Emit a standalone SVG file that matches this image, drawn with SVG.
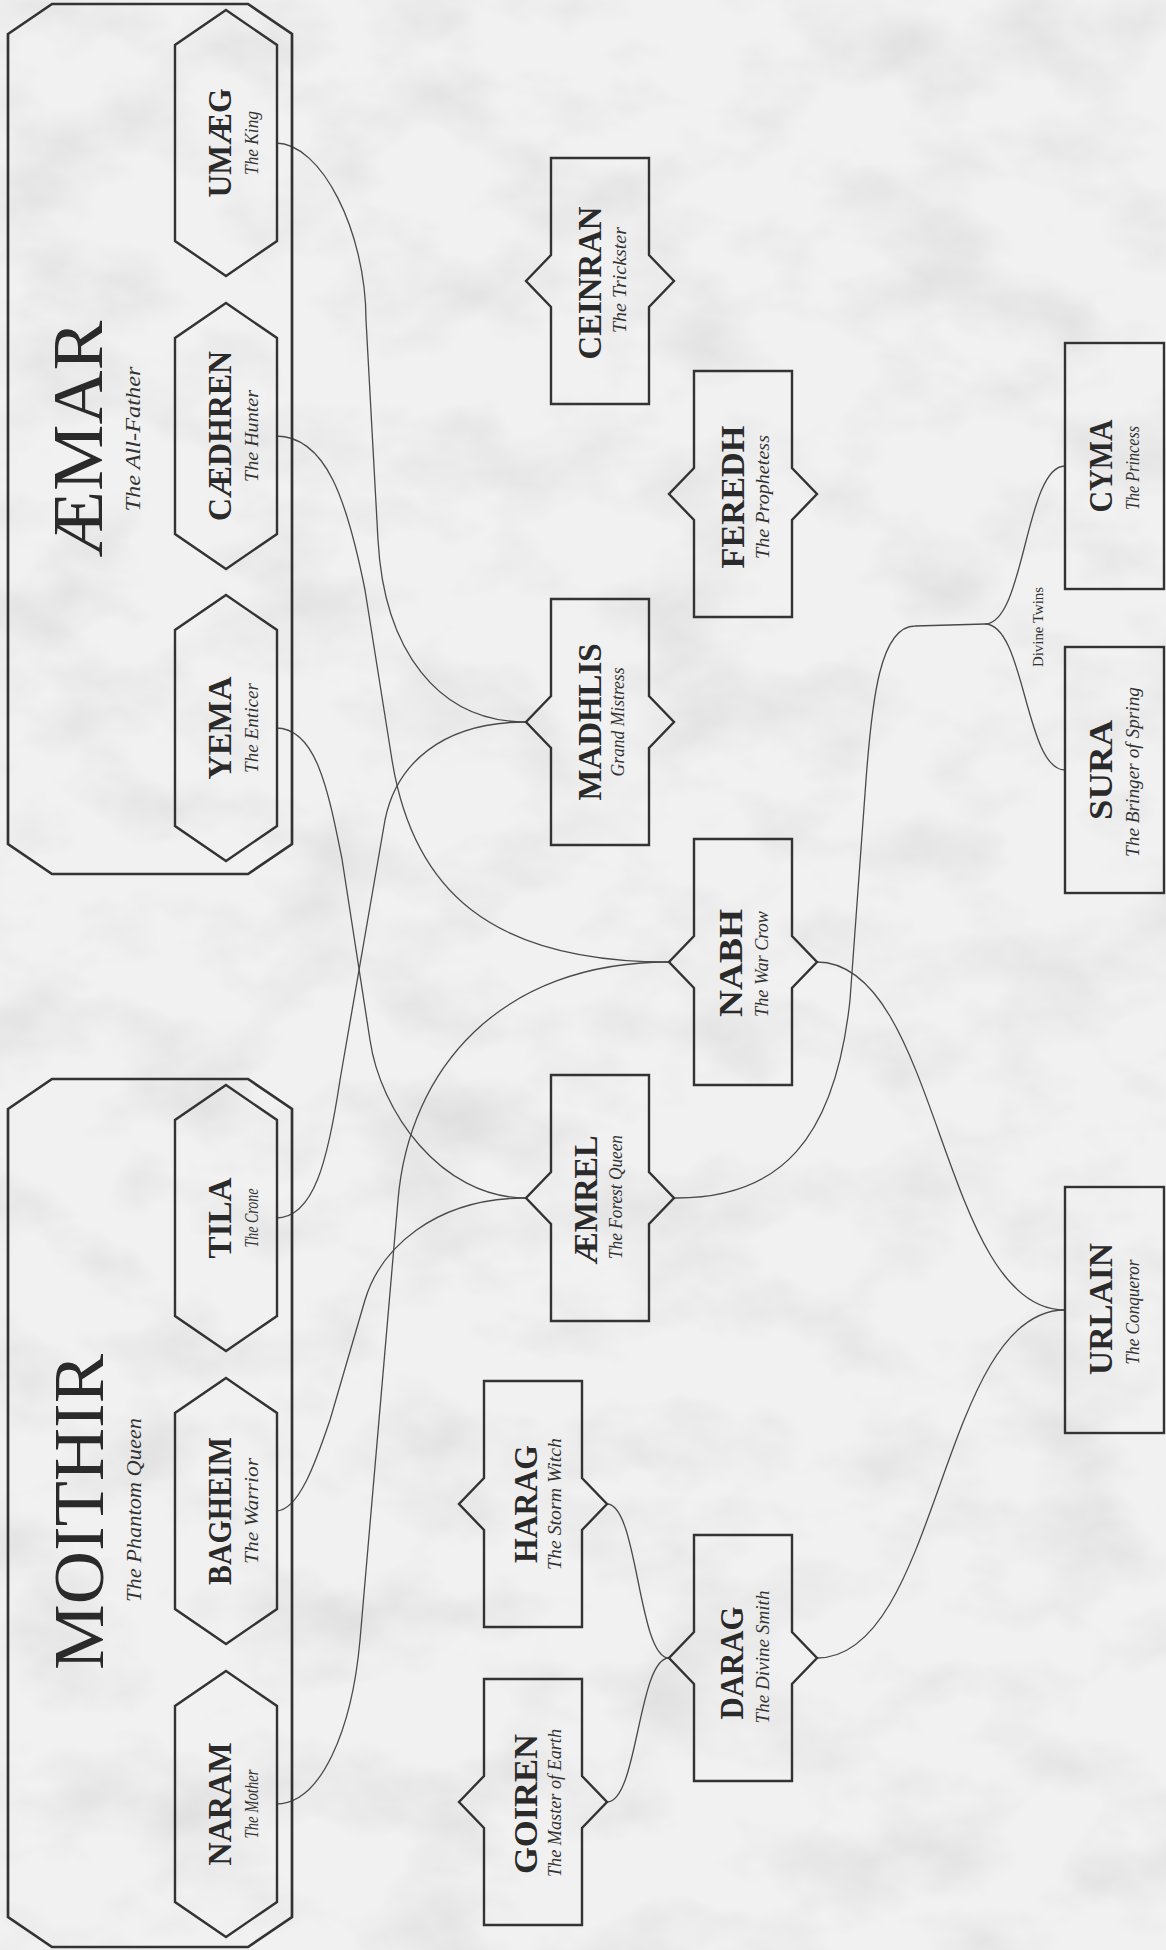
<svg xmlns="http://www.w3.org/2000/svg" width="1166" height="1950" viewBox="0 0 1166 1950">
<defs>
<style>
.bg{fill:#f1f1f1}
.box{fill:none;stroke:#333;stroke-width:2.7;stroke-linejoin:miter}
.hex{fill:none;stroke:#333;stroke-width:2.4}
.rn{fill:none;stroke:#333;stroke-width:2.4}
.ln{fill:none;stroke:#4a4a4a;stroke-width:1.3}
.nm{font-family:"Liberation Serif","DejaVu Serif",serif;font-weight:bold;font-size:34px;fill:#2a2a2a;text-anchor:middle}
.sb{font-family:"Liberation Serif","DejaVu Serif",serif;font-style:italic;font-size:18px;fill:#333;text-anchor:middle}
.tt{font-family:"Liberation Serif","DejaVu Serif",serif;font-size:72px;fill:#2a2a2a;text-anchor:middle}
.ts{font-family:"Liberation Serif","DejaVu Serif",serif;font-style:italic;font-size:22px;fill:#333;text-anchor:middle}
.lb{font-family:"Liberation Serif","DejaVu Serif",serif;font-size:14px;fill:#333;text-anchor:middle}
</style>
<filter id="paper" x="0" y="0" width="1166" height="1950" filterUnits="userSpaceOnUse">
<feTurbulence type="fractalNoise" baseFrequency="0.008 0.012" numOctaves="4" seed="7" result="n"/>
<feColorMatrix in="n" type="matrix" values="0 0 0 0 0.4  0 0 0 0 0.4  0 0 0 0 0.4  0.5 0 0 0 -0.22"/>
</filter>
</defs>
<rect class="bg" x="0" y="0" width="1166" height="1950"/>
<rect x="0" y="0" width="1166" height="1950" fill="#000" filter="url(#paper)"/>

<g id="connectors">
<path class="ln" d="M276,143 C321,143 366,231 366,320 L378,540 C384,649 437,722 526,722"/>
<path class="ln" d="M276,436 C326,436 347,500 365,590 L392,760 C413,890 490,962 669,962"/>
<path class="ln" d="M276,728 C316,728 328,789 342,859 L370,1040 C380,1110 440,1198 526,1198"/>
<path class="ln" d="M276,1218 C314,1218 328,1160 340,1080 L385,820 C396,765 441,722 526,722"/>
<path class="ln" d="M276,1511 C300,1511 318,1455 330,1420 L365,1300 C380,1250 433,1198 526,1198"/>
<path class="ln" d="M276,1804 C321,1804 352,1730 360,1640 L398,1200 C409,1070 499,962 669,962"/>
<path class="ln" d="M817,962 C940,962 940,1310 1065,1310"/>
<path class="ln" d="M817,1658 C940,1658 940,1310 1065,1310"/>
<path class="ln" d="M607,1504 C638,1504 638,1658 669,1658"/>
<path class="ln" d="M607,1802 C638,1802 638,1658 669,1658"/>
<path class="ln" d="M674,1198 C780,1199 835,1140 850,1000 L866,780 C872,700 880,626 915,626 L985,624"/>
<path class="ln" d="M985,624 C1025,624 1025,466 1065,466"/>
<path class="ln" d="M985,624 C1025,624 1025,770 1065,770"/>
</g>
<text class="lb" transform="translate(1043,627) rotate(-90)" textLength="80" lengthAdjust="spacingAndGlyphs">Divine Twins</text>

<g id="aemar">
<polygon class="box" points="8,34 52,4 248,4 292,34 292,844 248,874 52,874 8,844"/>
<text class="tt" transform="translate(102,439) rotate(-90)" textLength="237" lengthAdjust="spacingAndGlyphs">ÆMAR</text>
<text class="ts" transform="translate(140,439) rotate(-90)" textLength="145" lengthAdjust="spacingAndGlyphs">The All-Father</text>
</g>
<g id="umaeg">
<polygon class="hex" points="226,10 277,45 277,241 226,276 175,241 175,45"/>
<text class="nm" transform="translate(231,143) rotate(-90)" textLength="109" lengthAdjust="spacingAndGlyphs">UMÆG</text>
<text class="sb" transform="translate(258,143) rotate(-90)" textLength="64" lengthAdjust="spacingAndGlyphs">The King</text>
</g>
<g id="caedhren">
<polygon class="hex" points="226,303 277,338 277,534 226,569 175,534 175,338"/>
<text class="nm" transform="translate(231,436) rotate(-90)" textLength="170" lengthAdjust="spacingAndGlyphs">CÆDHREN</text>
<text class="sb" transform="translate(258,436) rotate(-90)" textLength="92" lengthAdjust="spacingAndGlyphs">The Hunter</text>
</g>
<g id="yema">
<polygon class="hex" points="226,595 277,630 277,826 226,861 175,826 175,630"/>
<text class="nm" transform="translate(231,728) rotate(-90)" textLength="103" lengthAdjust="spacingAndGlyphs">YEMA</text>
<text class="sb" transform="translate(258,728) rotate(-90)" textLength="90" lengthAdjust="spacingAndGlyphs">The Enticer</text>
</g>

<g id="moithir">
<polygon class="box" points="8,1109 52,1079 248,1079 292,1109 292,1917 248,1947 52,1947 8,1917"/>
<text class="tt" transform="translate(103,1512) rotate(-90)" textLength="316" lengthAdjust="spacingAndGlyphs">MOITHIR</text>
<text class="ts" transform="translate(141,1510) rotate(-90)" textLength="184" lengthAdjust="spacingAndGlyphs">The Phantom Queen</text>
</g>
<g id="tila">
<polygon class="hex" points="226,1085 277,1120 277,1316 226,1351 175,1316 175,1120"/>
<text class="nm" transform="translate(231,1218) rotate(-90)" textLength="81" lengthAdjust="spacingAndGlyphs">TILA</text>
<text class="sb" transform="translate(258,1218) rotate(-90)" textLength="59" lengthAdjust="spacingAndGlyphs">The Crone</text>
</g>
<g id="bagheim">
<polygon class="hex" points="226,1378 277,1413 277,1609 226,1644 175,1609 175,1413"/>
<text class="nm" transform="translate(231,1511) rotate(-90)" textLength="148" lengthAdjust="spacingAndGlyphs">BAGHEIM</text>
<text class="sb" transform="translate(258,1511) rotate(-90)" textLength="106" lengthAdjust="spacingAndGlyphs">The Warrior</text>
</g>
<g id="naram">
<polygon class="hex" points="226,1671 277,1706 277,1902 226,1937 175,1902 175,1706"/>
<text class="nm" transform="translate(231,1804) rotate(-90)" textLength="123" lengthAdjust="spacingAndGlyphs">NARAM</text>
<text class="sb" transform="translate(258,1804) rotate(-90)" textLength="69" lengthAdjust="spacingAndGlyphs">The Mother</text>
</g>

<g id="ceinran">
<polygon class="rn" points="551,158 649,158 649,255 674,281 649,307 649,404 551,404 551,307 526,281 551,255"/>
<text class="nm" transform="translate(601,283) rotate(-90)" textLength="153" lengthAdjust="spacingAndGlyphs">CEINRAN</text>
<text class="sb" transform="translate(626,280) rotate(-90)" textLength="106" lengthAdjust="spacingAndGlyphs">The Trickster</text>
</g>
<g id="feredh">
<polygon class="rn" points="694,371 792,371 792,468 817,494 792,520 792,617 694,617 694,520 669,494 694,468"/>
<text class="nm" transform="translate(744,497) rotate(-90)" textLength="143" lengthAdjust="spacingAndGlyphs">FEREDH</text>
<text class="sb" transform="translate(769,497) rotate(-90)" textLength="124" lengthAdjust="spacingAndGlyphs">The Prophetess</text>
</g>
<g id="madhlis">
<polygon class="rn" points="551,599 649,599 649,696 674,722 649,748 649,845 551,845 551,748 526,722 551,696"/>
<text class="nm" transform="translate(601,722) rotate(-90)" textLength="157" lengthAdjust="spacingAndGlyphs">MADHLIS</text>
<text class="sb" transform="translate(624,722) rotate(-90)" textLength="109" lengthAdjust="spacingAndGlyphs">Grand Mistress</text>
</g>
<g id="nabh">
<polygon class="rn" points="694,839 792,839 792,936 817,962 792,988 792,1085 694,1085 694,988 669,962 694,936"/>
<text class="nm" transform="translate(742,963) rotate(-90)" textLength="108" lengthAdjust="spacingAndGlyphs">NABH</text>
<text class="sb" transform="translate(768,964) rotate(-90)" textLength="106" lengthAdjust="spacingAndGlyphs">The War Crow</text>
</g>
<g id="aemrel">
<polygon class="rn" points="551,1075 649,1075 649,1172 674,1198 649,1224 649,1321 551,1321 551,1224 526,1198 551,1172"/>
<text class="nm" transform="translate(597,1200) rotate(-90)" textLength="129" lengthAdjust="spacingAndGlyphs">ÆMREL</text>
<text class="sb" transform="translate(622,1197) rotate(-90)" textLength="124" lengthAdjust="spacingAndGlyphs">The Forest Queen</text>
</g>
<g id="harag">
<polygon class="rn" points="484,1381 582,1381 582,1478 607,1504 582,1530 582,1627 484,1627 484,1530 459,1504 484,1478"/>
<text class="nm" transform="translate(537,1504) rotate(-90)" textLength="118" lengthAdjust="spacingAndGlyphs">HARAG</text>
<text class="sb" transform="translate(561,1504) rotate(-90)" textLength="132" lengthAdjust="spacingAndGlyphs">The Storm Witch</text>
</g>
<g id="darag">
<polygon class="rn" points="694,1535 792,1535 792,1632 817,1658 792,1684 792,1781 694,1781 694,1684 669,1658 694,1632"/>
<text class="nm" transform="translate(743,1663) rotate(-90)" textLength="113" lengthAdjust="spacingAndGlyphs">DARAG</text>
<text class="sb" transform="translate(769,1657) rotate(-90)" textLength="133" lengthAdjust="spacingAndGlyphs">The Divine Smith</text>
</g>
<g id="goiren">
<polygon class="rn" points="484,1679 582,1679 582,1776 607,1802 582,1828 582,1925 484,1925 484,1828 459,1802 484,1776"/>
<text class="nm" transform="translate(537,1804) rotate(-90)" textLength="140" lengthAdjust="spacingAndGlyphs">GOIREN</text>
<text class="sb" transform="translate(561,1803) rotate(-90)" textLength="148" lengthAdjust="spacingAndGlyphs">The Master of Earth</text>
</g>
<g id="cyma">
<rect class="rn" x="1065" y="343" width="99" height="246"/>
<text class="nm" transform="translate(1112,466) rotate(-90)" textLength="93" lengthAdjust="spacingAndGlyphs">CYMA</text>
<text class="sb" transform="translate(1139,468) rotate(-90)" textLength="84" lengthAdjust="spacingAndGlyphs">The Princess</text>
</g>
<g id="sura">
<rect class="rn" x="1065" y="647" width="99" height="246"/>
<text class="nm" transform="translate(1112,770) rotate(-90)" textLength="100" lengthAdjust="spacingAndGlyphs">SURA</text>
<text class="sb" transform="translate(1139,772) rotate(-90)" textLength="170" lengthAdjust="spacingAndGlyphs">The Bringer of Spring</text>
</g>
<g id="urlain">
<rect class="rn" x="1065" y="1187" width="99" height="246"/>
<text class="nm" transform="translate(1112,1309) rotate(-90)" textLength="132" lengthAdjust="spacingAndGlyphs">URLAIN</text>
<text class="sb" transform="translate(1139,1312) rotate(-90)" textLength="105" lengthAdjust="spacingAndGlyphs">The Conqueror</text>
</g>
</svg>
